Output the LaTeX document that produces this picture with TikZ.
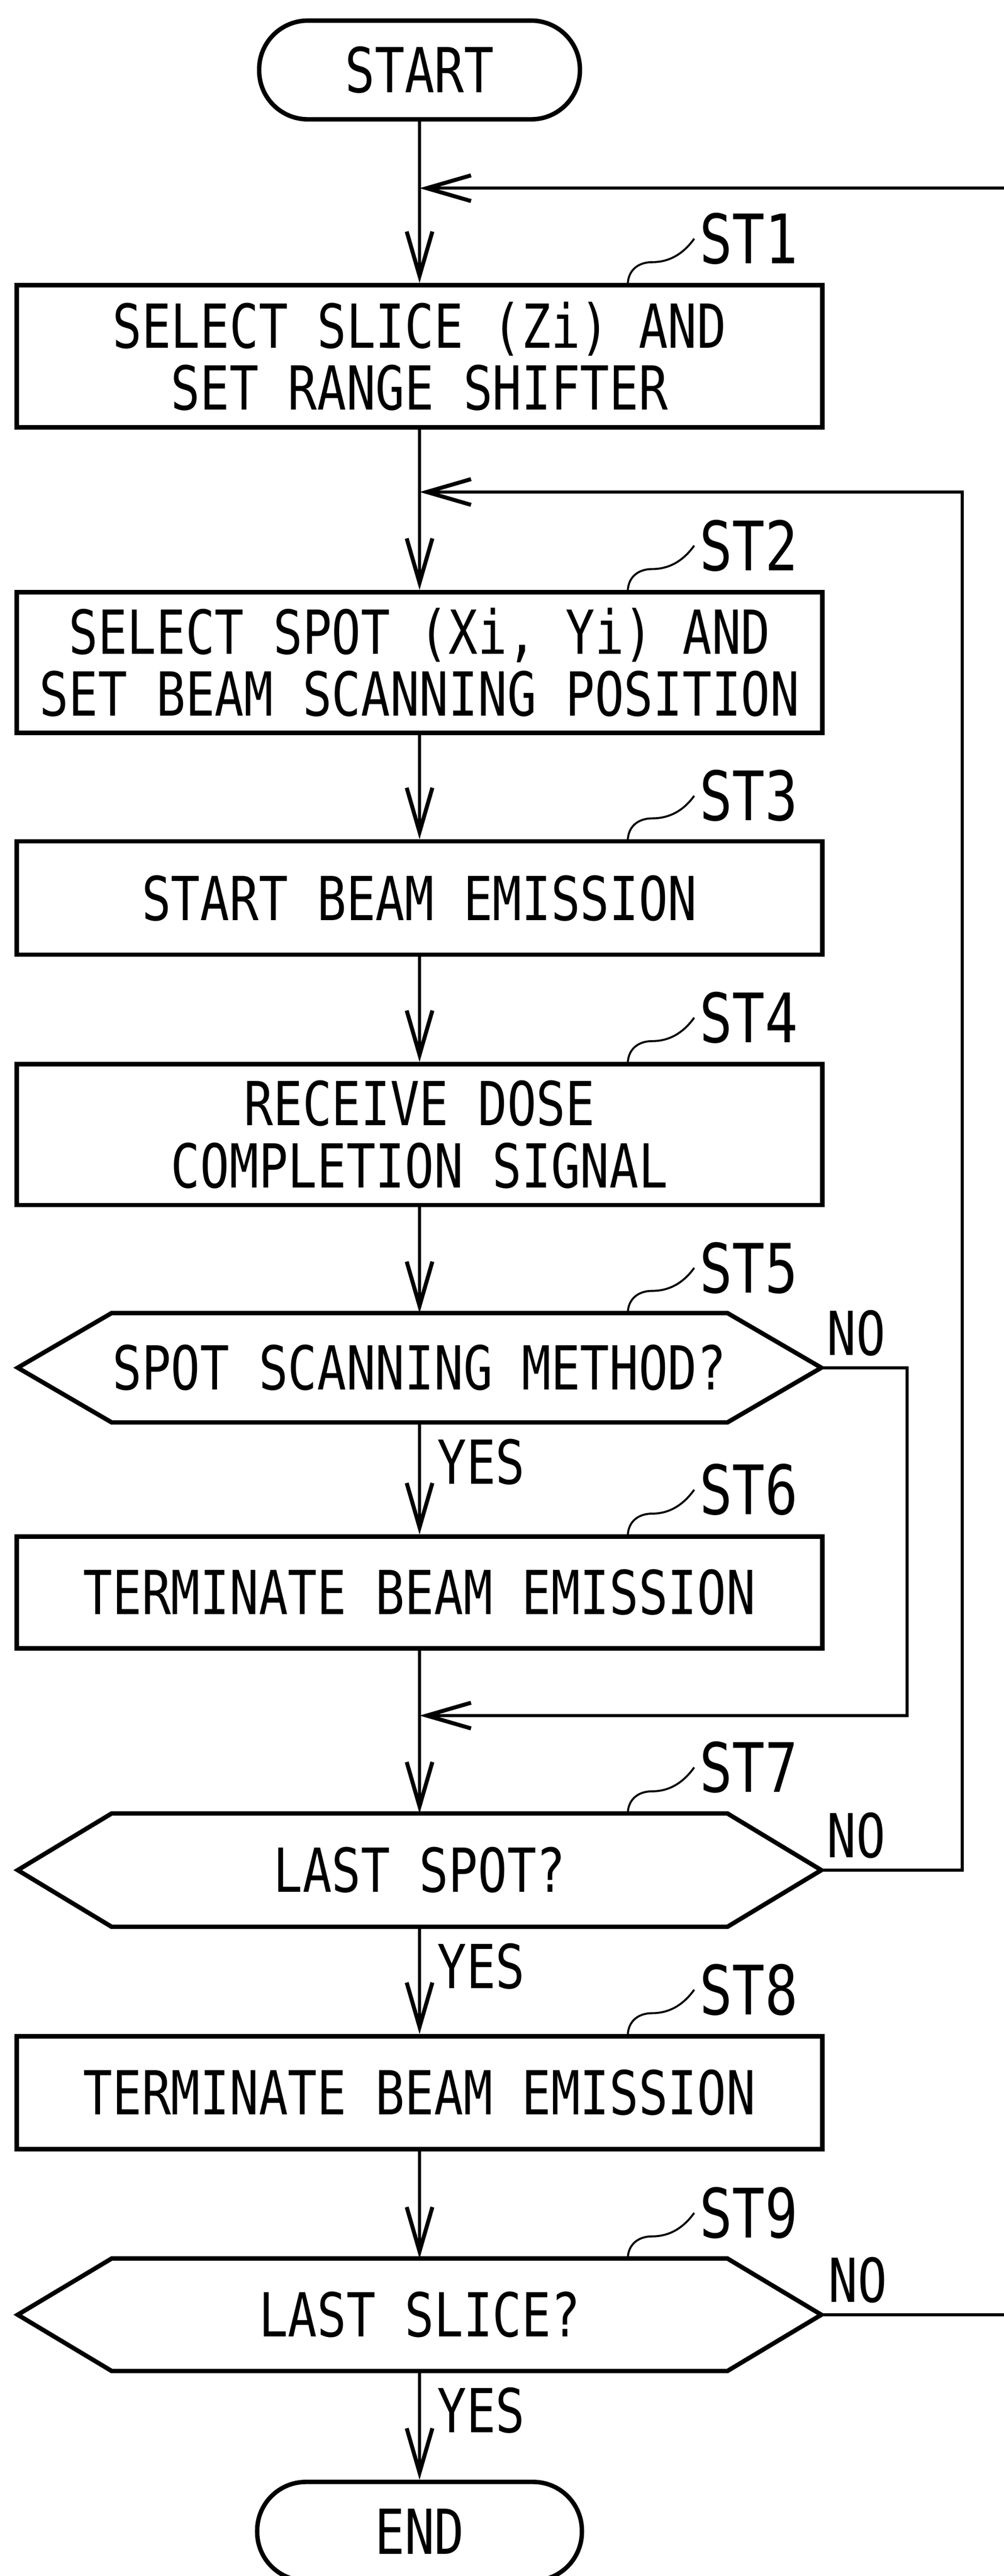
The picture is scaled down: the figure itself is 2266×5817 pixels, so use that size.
\documentclass[tikz,border=0pt]{standalone}
\usepackage{fontspec}
\setmainfont{DejaVu Sans Mono}[FakeStretch=0.8]
\usetikzlibrary{arrows.meta}
\begin{document}
\begin{tikzpicture}[x=0.1pt,y=-0.1pt,
  box/.style={draw,line width=1pt,minimum width=181.8pt,inner sep=0pt,align=center,font=\fontsize{13.7pt}{14pt}\selectfont},
  term/.style={draw,line width=1pt,rounded corners=11pt,minimum height=22.3pt,inner sep=0pt,font=\fontsize{14pt}{14pt}\selectfont},
  hexnode/.style={minimum width=181pt,inner sep=0pt,align=center,font=\fontsize{13.7pt}{14pt}\selectfont},
  conn/.style={line width=0.7pt},
  arr/.style={conn,-{Straight Barb[length=10pt,width=5.8pt,line width=0.9pt]}},
  stlbl/.style={anchor=west,inner sep=0pt,font=\fontsize{15.4pt}{15.4pt}\selectfont},
  sq/.style={line width=0.45pt},
  yn/.style={inner sep=0pt,font=\fontsize{13.7pt}{13.7pt}\selectfont}
]
\useasboundingbox (0,0) rectangle (2266,5817);

% terminals
\node[term,minimum width=72.4pt] (start) at (947,158) {START};
\node[term,minimum width=73.3pt] (end) at (947,5716) {END};

% process boxes
\node[box,minimum height=32.1pt] (st1) at (947,804.5) {SELECT SLICE (Zi) AND\\SET RANGE SHIFTER};
\node[box,minimum height=31.8pt] (st2) at (947,1496) {SELECT SPOT (Xi, Yi) AND\\SET BEAM SCANNING POSITION};
\node[box,minimum height=25.6pt] (st3) at (947,2028) {START BEAM EMISSION};
\node[box,minimum height=31.8pt] (st4) at (947,2562) {RECEIVE DOSE\\COMPLETION SIGNAL};
\node[box,minimum height=25.2pt] (st6) at (947,3596) {TERMINATE BEAM EMISSION};
\node[box,minimum height=25.5pt] (st8) at (947,4725.5) {TERMINATE BEAM EMISSION};

% decisions
\node[hexnode,minimum height=24.3pt] (st5) at (947,3088.5) {SPOT SCANNING METHOD?};
\node[hexnode,minimum height=25.2pt] (st7) at (947,4223) {LAST SPOT?};
\node[hexnode,minimum height=25.0pt] (st9) at (947,5227) {LAST SLICE?};
\foreach \h in {st5,st7,st9}{
  \draw[line width=1pt,line join=miter] (\h.west) -- ([xshift=21.2pt]\h.north west) -- ([xshift=-21.2pt]\h.north east)
    -- (\h.east) -- ([xshift=-21.2pt]\h.south east) -- ([xshift=21.2pt]\h.south west) -- cycle;
}

% step labels
\node[stlbl] (l1) at (1577,539) {ST1};
\node[stlbl] (l2) at (1577,1232) {ST2};
\node[stlbl] (l3) at (1577,1797) {ST3};
\node[stlbl] (l4) at (1577,2298) {ST4};
\node[stlbl] (l5) at (1577,2863) {ST5};
\node[stlbl] (l6) at (1577,3364) {ST6};
\node[stlbl] (l7) at (1577,3991) {ST7};
\node[stlbl] (l8) at (1577,4493) {ST8};
\node[stlbl] (l9) at (1577,4997) {ST9};
\coordinate (s1) at (1417,644);
\coordinate (s2) at (1417,1337);
\coordinate (s3) at (1417,1900);
\coordinate (s4) at (1417,2403);
\coordinate (s5) at (1417,2967);
\coordinate (s6) at (1417,3470);
\coordinate (s7) at (1417,4097);
\coordinate (s8) at (1417,4598);
\coordinate (s9) at (1417,5102);
\foreach \i in {1,...,9}{
  \draw[sq] (s\i) .. controls +(0,-35) and +(-30,0) .. ++(55,-52) .. controls +(45,0) and +(-20,28) .. ([xshift=-1pt]l\i.west);
}

% YES / NO labels
\node[yn,anchor=north west] (y5) at ([xshift=3.8pt,yshift=-3.5pt]st5.south) {YES};
\node[yn,anchor=north west] (y7) at ([xshift=3.8pt,yshift=-3.5pt]st7.south) {YES};
\node[yn,anchor=north west] (y9) at ([xshift=3.8pt,yshift=-3.5pt]st9.south) {YES};
\node[yn,anchor=south west] (n5) at ([xshift=1.1pt,yshift=2.4pt]st5.east) {NO};
\node[yn,anchor=south west] (n7) at ([xshift=1.1pt,yshift=2.4pt]st7.east) {NO};
\node[yn,anchor=south west] (n9) at ([xshift=1.4pt,yshift=2.4pt]st9.east) {NO};

% main flow
\draw[arr] (start.south) -- (st1.north);
\draw[arr] (st1.south) -- (st2.north);
\draw[arr] (st2.south) -- (st3.north);
\draw[arr] (st3.south) -- (st4.north);
\draw[arr] (st4.south) -- (st5.north);
\draw[arr] (st5.south) -- (st6.north);
\draw[arr] (st6.south) -- (st7.north);
\draw[arr] (st7.south) -- (st8.north);
\draw[arr] (st8.south) -- (st9.north);
\draw[arr] (st9.south) -- (end.north);

% loops
\coordinate (rt) at (2266,425);
\draw[arr] (rt) -- (rt -| st1.north);
\coordinate (r7) at (2172,1111);
\draw[arr,line join=miter] (st7.east) -| (r7) -- (r7 -| st2.north);
\coordinate (r5) at (2048,3874);
\draw[arr,line join=miter] (st5.east) -| (r5) -- (r5 -| st6.south);
\coordinate (rb) at (2266,5227);
\draw[conn] (st9.east) -- (st9.east -| rb);
\end{tikzpicture}
\end{document}
